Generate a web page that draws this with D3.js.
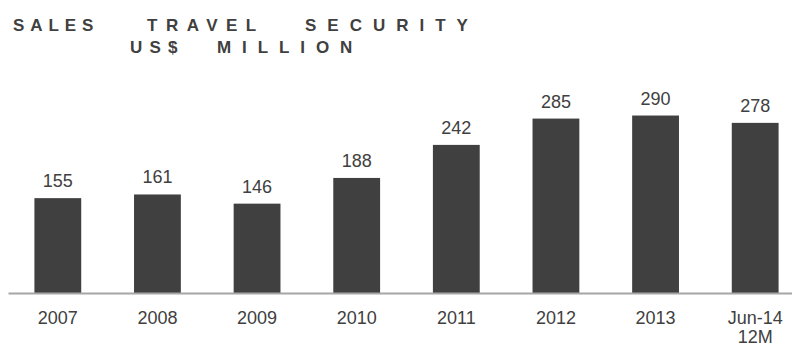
<!DOCTYPE html>
<html><head><meta charset="utf-8">
<script src="https://cdn.jsdelivr.net/npm/d3@7"></script>
<style>
html,body{margin:0;padding:0;background:#fff;}
svg{display:block;}
text{font-family:"Liberation Sans",Arial,sans-serif;}
</style></head>
<body>
<svg id="chart" width="792" height="348"></svg>
<script>
const categories = ["2007","2008","2009","2010","2011","2012","2013","Jun-14\n12M"];
const sales = [155,161,146,188,242,285,290,278];
const titleLines = ["SALES TRAVEL SECURITY","US$ MILLION"];

const svg = d3.select("#chart");
const baseY = 293;

const x = d3.scaleBand().domain(categories).range([8, 805]).paddingInner(0.53).paddingOuter(0.265);
const y = d3.scaleLinear().domain([0, 300]).range([baseY, baseY - 183.6]);

// title layout (per word: start x, letter spacing)
const titleLayout = [
  {y: 31, words: [{x: 13, ls: 5.9}, {x: 147, ls: 8.5}, {x: 305, ls: 11}]},
  {y: 53, words: [{x: 130, ls: 7.2}, {x: 217, ls: 10.9}]}
];
const titleWords = [];
titleLines.forEach((line, li) => {
  line.split(" ").forEach((w, wi) => {
    const L = titleLayout[li];
    titleWords.push({text: w, x: L.words[wi].x, y: L.y, ls: L.words[wi].ls});
  });
});
svg.append("g").selectAll("text").data(titleWords).join("text")
  .attr("x", d => d.x)
  .attr("y", d => d.y)
  .style("font-size", "17px")
  .style("font-weight", "bold")
  .style("letter-spacing", d => d.ls + "px")
  .attr("fill", "#404040")
  .text(d => d.text);

// bars
svg.append("g").selectAll("rect").data(sales).join("rect")
  .attr("x", (d,i) => x(categories[i]))
  .attr("width", x.bandwidth())
  .attr("y", d => y(d))
  .attr("height", d => baseY - y(d))
  .attr("fill", "#404040");

// value labels
svg.append("g").selectAll("text").data(sales).join("text")
  .attr("x", (d,i) => x(categories[i]) + x.bandwidth()/2)
  .attr("y", d => y(d) - 11)
  .attr("text-anchor", "middle")
  .style("font-size", "18px")
  .attr("fill", "#404040")
  .text(d => d);

// axis
const axis = d3.axisBottom(x).tickSize(0).tickSizeOuter(0).tickPadding(0);
const ag = svg.append("g").attr("transform", `translate(0,${baseY})`).call(axis);
ag.select(".domain").attr("stroke", "#a6a6a6").attr("stroke-width", 2);
ag.selectAll(".tick text").each(function(d){
  const t = d3.select(this);
  t.text(null).attr("y", 0).attr("dy", null)
   .style("font-size", "18px").style("font-family", "Liberation Sans, Arial, sans-serif")
   .attr("fill", "#404040");
  d.split("\n").forEach((line, k) => {
    t.append("tspan").attr("x", 0).attr("y", 31 + k*19).text(line);
  });
});
</script>
</body></html>
